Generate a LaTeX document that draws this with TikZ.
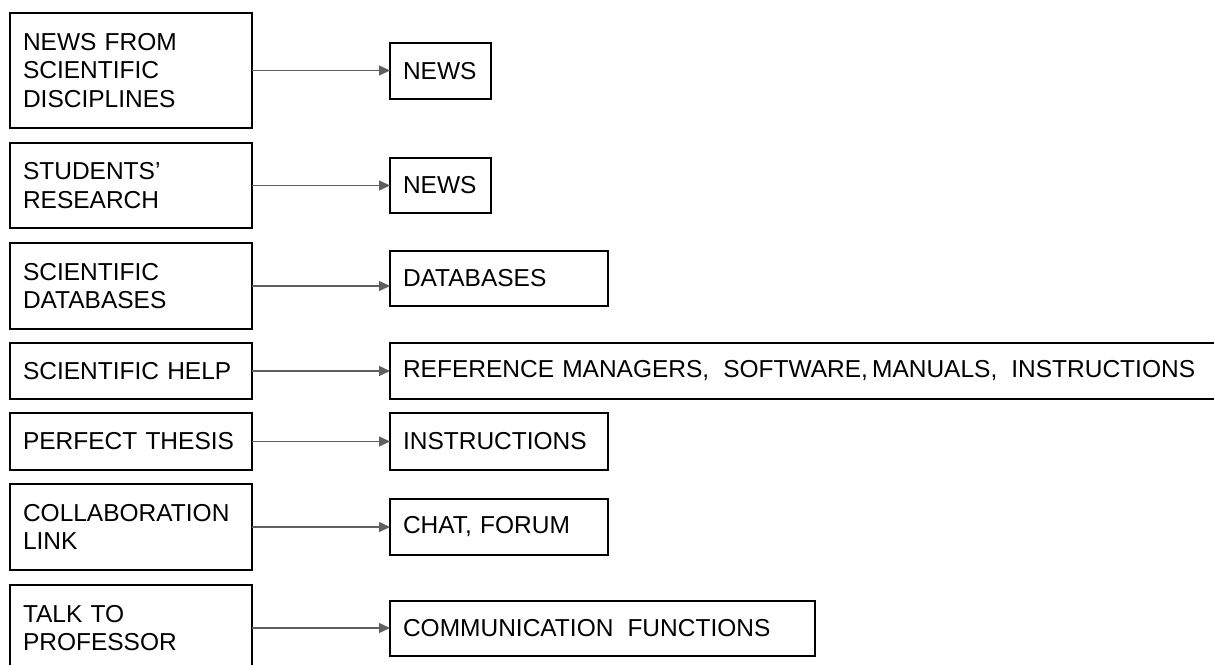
\documentclass[tikz,border=0pt]{standalone}
\usepackage{fontspec}
\setmainfont{Liberation Sans}
\usetikzlibrary{arrows.meta}
\newfontfamily\boxfontfam{Liberation Sans}
\newcommand{\boxfont}{\boxfontfam\fontsize{24.5}{28.5}\selectfont}
\definecolor{arrowgray}{HTML}{5F5F5F}
\begin{document}
\begin{tikzpicture}[x=1pt,y=-1pt,
  box/.style={draw=black, line width=1.3pt, inner xsep=13pt, inner ysep=0pt,
    outer sep=0pt, align=left, anchor=north west, font=\boxfont},
  conn/.style={draw=arrowgray, line width=1.4pt, -{Triangle[length=11pt,width=10pt]}}]
\clip (0,0) rectangle (1214,664);
\useasboundingbox (0,0) rectangle (1214,664);
% left column
\node[box, text width=216pt, minimum height=115pt] (L1) at (10,13) {NEWS FROM\\SCIENTIFIC\\DISCIPLINES};
\node[box, text width=216pt, minimum height=85pt] (L2) at (10,143) {STUDENTS’\\RESEARCH};
\node[box, text width=216pt, minimum height=86pt] (L3) at (10,243) {SCIENTIFIC\\DATABASES};
\node[box, text width=216pt, minimum height=56pt] (L4) at (10,343) {SCIENTIFIC HELP};
\node[box, text width=216pt, minimum height=57pt] (L5) at (10,413) {PERFECT THESIS};
\node[box, text width=216pt, minimum height=86pt] (L6) at (10,484) {COLLABORATION\\LINK};
\node[box, text width=216pt, minimum height=86pt] (L7) at (10,585) {TALK TO\\PROFESSOR};
% right column
\node[box, text width=75pt, minimum height=56pt] (R1) at (390,43) {NEWS};
\node[box, text width=75pt, minimum height=55pt] (R2) at (390,158) {NEWS};
\node[box, text width=192pt, minimum height=55pt] (R3) at (390,251) {DATABASES};
\node[box, text width=824pt, minimum height=56pt] (R4) at (390,343) {REFERENCE MANAGERS,\hspace{14pt}SOFTWARE,\,MANUALS,\hspace{14pt}INSTRUCTIONS};
\node[box, text width=192pt, minimum height=57pt] (R5) at (390,413) {INSTRUCTIONS};
\node[box, text width=192pt, minimum height=56pt] (R6) at (390,499) {CHAT, FORUM};
\node[box, text width=399pt, minimum height=55pt] (R7) at (390,601) {COMMUNICATION\hspace{14pt}FUNCTIONS};
% connectors
\foreach \i in {1,...,7}{
  \draw[conn] (L\i.east) -- (L\i.east -| R\i.west);
}
\end{tikzpicture}
\end{document}
